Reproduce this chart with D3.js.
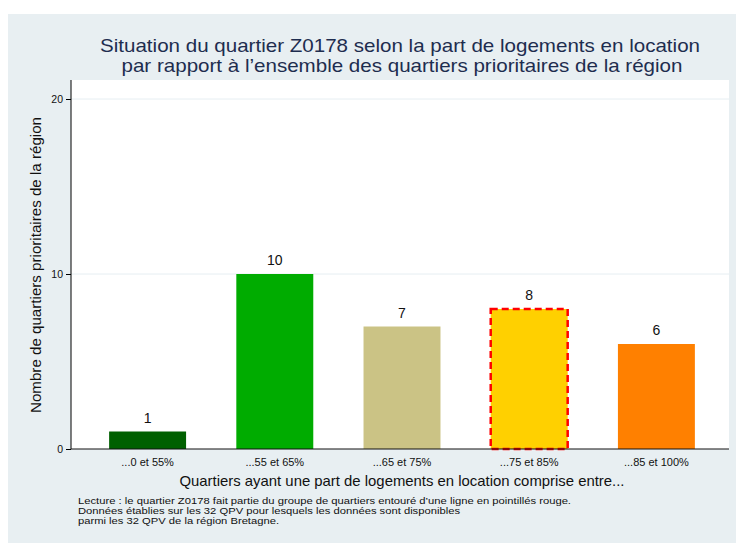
<!DOCTYPE html>
<html>
<head>
<meta charset="utf-8">
<script src="https://cdn.jsdelivr.net/npm/d3@7"></script>
<style>
  body { margin: 0; background: #fff; }
  text { font-family: "Liberation Sans", Arial, sans-serif; }
</style>
</head>
<body>
<div id="chart"></div>
<script>
var categories = ["...0 et 55%", "...55 et 65%", "...65 et 75%", "...75 et 85%", "...85 et 100%"];
var counts = [1, 10, 7, 8, 6];
var colors = ["#006000", "#00ac00", "#cbc385", "#ffd000", "#ff8000"];
var highlighted = "...75 et 85%";
var yTicks = [0, 10, 20];
var footnote = [
  "Lecture : le quartier Z0178 fait partie du groupe de quartiers entouré d\u2019une ligne en pointillés rouge.",
  "Données établies sur les 32 QPV pour lesquels les données sont disponibles",
  "parmi les 32 QPV de la région Bretagne."
];
var footnoteWidths = [493, 382, 201];

var width = 736, height = 543;

var svg = d3.select("#chart").append("svg")
  .attr("width", width)
  .attr("height", height);

// fond
svg.append("rect")
  .attr("x", 8).attr("y", 14)
  .attr("width", width - 8).attr("height", height - 14)
  .attr("fill", "#e8eff2");

var plot = { left: 71, right: 729, top: 80, bottom: 449 };

svg.append("rect")
  .attr("x", plot.left).attr("y", plot.top)
  .attr("width", plot.right - plot.left)
  .attr("height", plot.bottom - plot.top)
  .attr("fill", "#fff");

var x = d3.scaleBand()
  .domain(categories)
  .range([84, 720])
  .paddingInner(0.395)
  .paddingOuter(0.1975);

var y = d3.scaleLinear()
  .domain([0, 20])
  .range([plot.bottom, 99]);

// grille
svg.selectAll(".grid")
  .data(yTicks.filter(function(d) { return d > 0; }))
  .enter().append("line")
  .attr("x1", plot.left).attr("x2", plot.right)
  .attr("y1", function(d) { return y(d); })
  .attr("y2", function(d) { return y(d); })
  .attr("stroke", "#e6eef2")
  .attr("stroke-width", 1);

// barres
svg.selectAll(".bar")
  .data(counts)
  .enter().append("rect")
  .attr("class", "bar")
  .attr("x", function(d, i) { return x(categories[i]); })
  .attr("y", function(d) { return y(d); })
  .attr("width", x.bandwidth())
  .attr("height", function(d) { return y(0) - y(d); })
  .attr("fill", function(d, i) { return colors[i]; })
  .attr("stroke", function(d, i) { return categories[i] == highlighted ? "#ff0000" : "none"; })
  .attr("stroke-width", 2.5)
  .attr("stroke-dasharray", "7,4");

svg.selectAll(".val")
  .data(counts)
  .enter().append("text")
  .attr("x", function(d, i) { return x(categories[i]) + x.bandwidth() / 2; })
  .attr("y", function(d) { return y(d) - 9; })
  .attr("text-anchor", "middle")
  .attr("font-size", 14)
  .attr("fill", "#111")
  .text(function(d) { return d; });

// axes
var yAxis = svg.append("g")
  .attr("transform", "translate(" + plot.left + ",0)")
  .call(d3.axisLeft(y).tickValues(yTicks).tickSize(5).tickPadding(3));
yAxis.select(".domain").attr("d", "M0," + plot.top + "V" + plot.bottom);
yAxis.selectAll("text").attr("font-size", 10.5).attr("fill", "#111")
  .style("font-family", "Liberation Sans, Arial, sans-serif");

var xAxis = svg.append("g")
  .attr("transform", "translate(0," + plot.bottom + ")")
  .call(d3.axisBottom(x).tickSize(0).tickPadding(9));
xAxis.select(".domain").attr("d", "M" + plot.left + ",0H" + plot.right).attr("stroke", "#111");
xAxis.selectAll("text").attr("font-size", 11).attr("fill", "#111")
  .style("font-family", "Liberation Sans, Arial, sans-serif");

// titres
svg.append("text")
  .attr("x", 400).attr("y", 52)
  .attr("text-anchor", "middle")
  .attr("font-size", 19)
  .attr("textLength", 600)
  .attr("lengthAdjust", "spacingAndGlyphs")
  .attr("fill", "#1e2d4f")
  .text("Situation du quartier Z0178 selon la part de logements en location");
svg.append("text")
  .attr("x", 402).attr("y", 72)
  .attr("text-anchor", "middle")
  .attr("font-size", 19)
  .attr("textLength", 561)
  .attr("lengthAdjust", "spacingAndGlyphs")
  .attr("fill", "#1e2d4f")
  .text("par rapport à l\u2019ensemble des quartiers prioritaires de la région");

svg.append("text")
  .attr("transform", "translate(41,265) rotate(-90)")
  .attr("text-anchor", "middle")
  .attr("font-size", 15)
  .attr("textLength", 296)
  .attr("lengthAdjust", "spacingAndGlyphs")
  .attr("fill", "#111")
  .text("Nombre de quartiers prioritaires de la région");

svg.append("text")
  .attr("x", 402).attr("y", 486)
  .attr("text-anchor", "middle")
  .attr("font-size", 15)
  .attr("textLength", 445)
  .attr("lengthAdjust", "spacingAndGlyphs")
  .attr("fill", "#111")
  .text("Quartiers ayant une part de logements en location comprise entre...");

svg.selectAll(".note")
  .data(footnote)
  .enter().append("text")
  .attr("x", 78)
  .attr("y", function(d, i) { return 504 + i * 9.8; })
  .attr("font-size", 9)
  .attr("textLength", function(d, i) { return footnoteWidths[i]; })
  .attr("lengthAdjust", "spacingAndGlyphs")
  .attr("fill", "#111")
  .text(function(d) { return d; });
</script>
</body>
</html>
